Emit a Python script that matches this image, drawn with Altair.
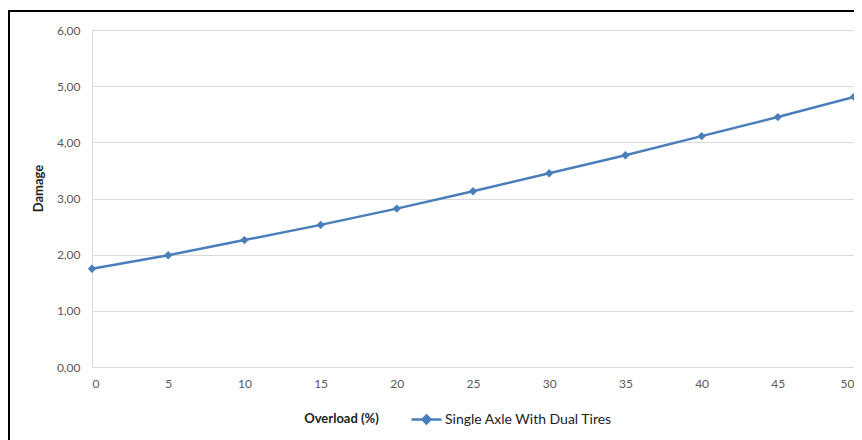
import altair as alt
import pandas as pd

overload = [0, 5, 10, 15, 20, 25, 30, 35, 40, 45, 50]
damage = [1.75, 1.99, 2.26, 2.53, 2.82, 3.13, 3.45, 3.77, 4.11, 4.45, 4.81]
series_name = "Single Axle With Dual Tires"

df = pd.DataFrame({"overload": overload, "damage": damage, "series": series_name})

BLUE = "#4a7ebb"
FONT = "Lato"

x_enc = alt.X(
    "overload:Q",
    scale=alt.Scale(domain=[0, 50], nice=False),
    axis=alt.Axis(
        values=[0, 5, 10, 15, 20, 25, 30, 35, 40, 45, 50],
        title="Overload (%)",
        titleFontWeight="bold",
        titleFontSize=13,
        titleFont=FONT,
        titleColor="#222222",
        titleX=249,
        titleY=51,
        titleBaseline="middle",
        labelFont=FONT,
        labelFontSize=12,
        labelColor="#595959",
        labelPadding=11,
        ticks=False,
        grid=False,
        domain=False,
    ),
)
y_enc = alt.Y(
    "damage:Q",
    scale=alt.Scale(domain=[0, 6], nice=False),
    axis=alt.Axis(
        values=[0, 1, 2, 3, 4, 5, 6],
        labelExpr="replace(format(datum.value, '.2f'), '.', ',')",
        title="Damage",
        titleFontWeight="bold",
        titleFontSize=13,
        titleFont=FONT,
        titleColor="#222222",
        titleX=-54,
        titleY=158,
        titleAlign="center",
        titleBaseline="middle",
        labelFont=FONT,
        labelFontSize=12,
        labelColor="#595959",
        labelPadding=12,
        ticks=False,
        grid=True,
        gridColor="#d9d9d9",
        gridWidth=1,
        domain=True,
        domainColor="#d9d9d9",
        domainWidth=1,
    ),
)

color_enc = alt.Color(
    "series:N",
    scale=alt.Scale(range=[BLUE]),
    legend=alt.Legend(
        title=None,
        orient="none",
        legendX=318,
        legendY=373,
        symbolType="M-1,0L1,0M0,-0.27L0.27,0L0,0.27L-0.27,0Z",
        symbolSize=900,
        symbolStrokeWidth=2.5,
        symbolFillColor=BLUE,
        symbolStrokeColor=BLUE,
        labelFont=FONT,
        labelFontSize=14,
        labelLimit=400,
        labelColor="#222222",
        labelOffset=2,
    ),
)

line = alt.Chart(df).mark_line(strokeWidth=2.5).encode(x=x_enc, y=y_enc, color=color_enc)
pts = alt.Chart(df).mark_point(shape="diamond", filled=True, size=70, opacity=1).encode(
    x="overload:Q", y="damage:Q", color=alt.Color("series:N", legend=None)
)

border = alt.Chart(pd.DataFrame({"a": [0]})).mark_rect(
    fill=None, stroke="black", strokeWidth=2, clip=False
).encode(
    x=alt.value(-83), x2=alt.value(800), y=alt.value(-19), y2=alt.value(430)
)

chart = (
    alt.layer(line, pts, border)
    .properties(
        width=762,
        height=337,
        padding={"left": 84, "top": 22, "right": 0, "bottom": 73},
        autosize=alt.AutoSizeParams(type="none"),
        background="white",
    )
    .configure_view(stroke=None)
)

chart.save("out.html", embed_options={"renderer": "svg", "actions": False})
